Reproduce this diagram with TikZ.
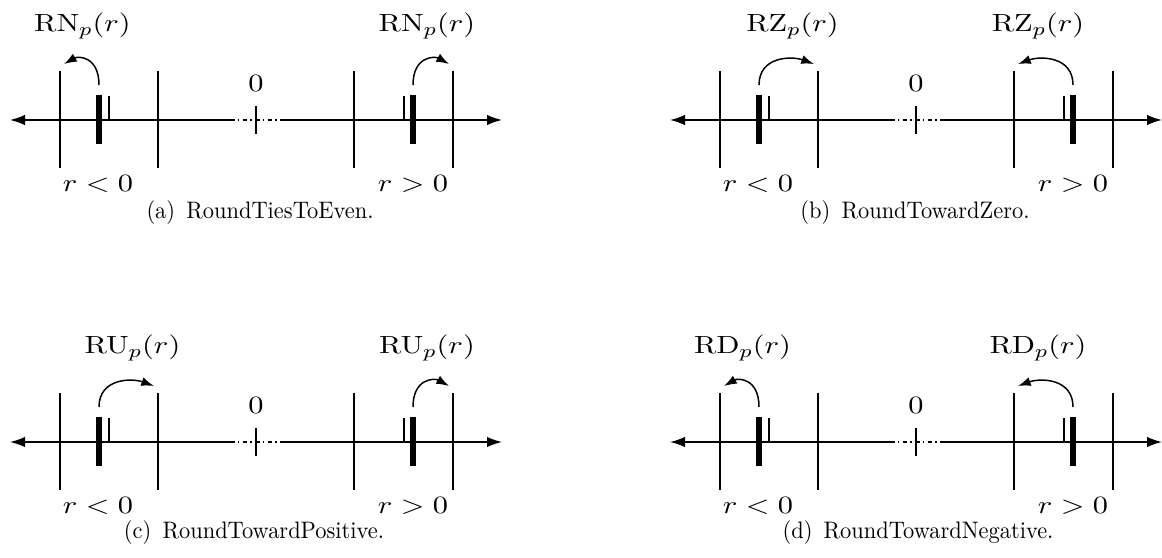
\documentclass[tikz,border=0pt]{standalone}
\usetikzlibrary{arrows.meta}
\tikzset{
  axisline/.style={line width=0.65pt,-{Latex[length=6.6pt,width=4.6pt]}},
  gapline/.style={line width=0.65pt,dash pattern=on 2pt off 1.4pt on 0.7pt off 1.4pt},
  gridline/.style={line width=0.65pt},
  midline/.style={line width=0.65pt},
  barline/.style={line width=3pt},
  roundarrow/.style={line width=0.65pt,-{Latex[length=5.6pt,width=4pt]}},
  lab/.style={inner sep=0pt},
}
\newcommand\sx[1]{\scalebox{1.22}[1]{\fontsize{10.8}{12}\selectfont #1}}
\newcommand\rpanel[8]{%
 \begin{scope}[shift={(#1,#2)}]
  \coordinate (#3L) at (10,120);
  \coordinate (#3Ls) at (230,120);
  \coordinate (#3Rs) at (282,120);
  \coordinate (#3R) at (502,120);
  \draw[axisline] (#3Ls) -- (#3L);
  \draw[axisline] (#3Rs) -- (#3R);
  \draw[gapline] (#3Ls) -- (#3Rs);
  \draw[midline] (256,106) -- (256,134);
  \node[lab] (#3z) at (256,83) {\sx{$0$}};
  \foreach \t in {60,158,354,453} \draw[gridline] (\t,71) -- (\t,168);
  \draw[midline] (109,96) -- (109,120);
  \draw[midline] (404,96) -- (404,120);
  \draw[barline] (99,95) -- (99,144);
  \draw[barline] (413,95) -- (413,144);
  \coordinate (#3a1) at (99,85);
  \coordinate (#3a2) at (#5,64);
  \draw[roundarrow] (#3a1) .. controls (99,56) and ({99+0.6*(#5-99)},56) .. (#3a2);
  \coordinate (#3b1) at (413,85);
  \coordinate (#3b2) at (#7,64);
  \draw[roundarrow] (#3b1) .. controls (413,56) and ({413+0.6*(#7-413)},56) .. (#3b2);
  \node[lab] (#3l1) at (#6,26) {\sx{$\mathrm{#4}_p(r)$}};
  \node[lab] (#3l2) at (#8,26) {\sx{$\mathrm{#4}_p(r)$}};
  \node[lab] (#3n) at (98,183.5) {\sx{$r<0$}};
  \node[lab] (#3p) at (413,183.5) {\sx{$r>0$}};
 \end{scope}}
\newcommand\capt[1]{\scalebox{0.94}[1]{\fontsize{10.5}{12}\selectfont #1}}
\begin{document}
\begin{tikzpicture}[x=0.44pt,y=-0.44pt]
\useasboundingbox (0,0) rectangle (1162,558);
\rpanel{0}{0}{A}{RN}{64}{82.5}{449}{427}
\rpanel{660}{0}{B}{RZ}{154}{132.5}{358}{378}
\rpanel{0}{322}{C}{RU}{154}{132.5}{449}{427}
\rpanel{660}{322}{D}{RD}{64}{82.5}{358}{378}
\node[lab] (capA) at (260,213) {\capt{(a)\hspace{0.5em}RoundTiesToEven.}};
\node[lab] (capB) at (915,213) {\capt{(b)\hspace{0.5em}RoundTowardZero.}};
\node[lab] (capC) at (254,533) {\capt{(c)\hspace{0.5em}RoundTowardPositive.}};
\node[lab] (capD) at (918,533) {\capt{(d)\hspace{0.5em}RoundTowardNegative.}};
\end{tikzpicture}
\end{document}
